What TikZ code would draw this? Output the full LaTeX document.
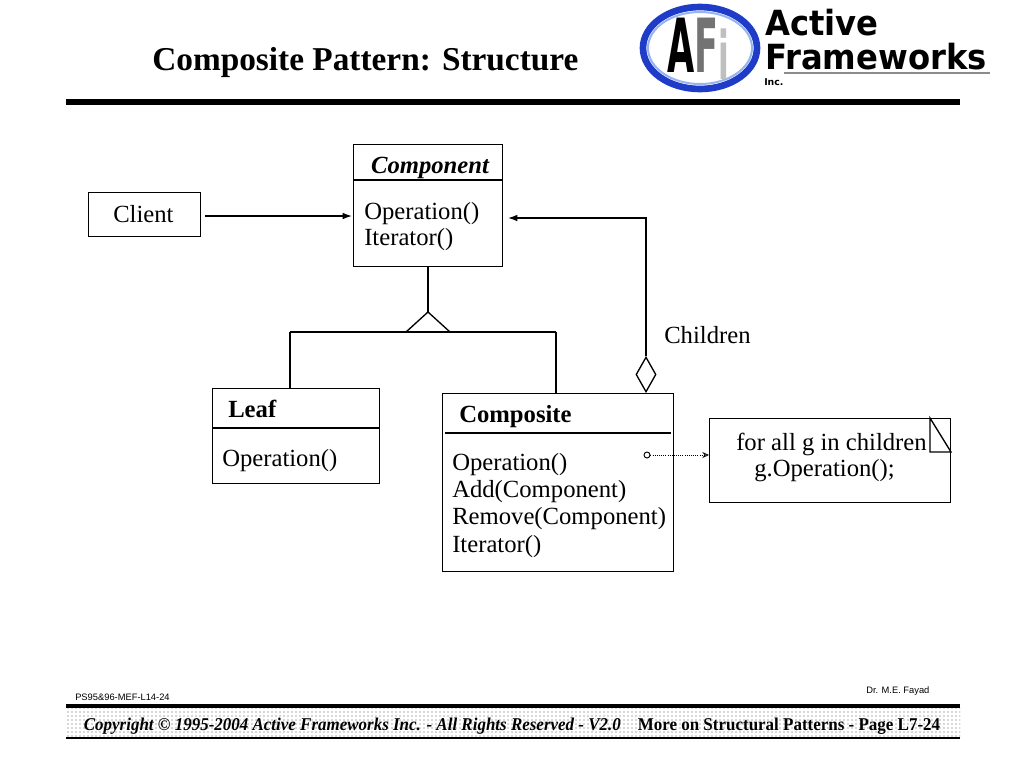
\documentclass[tikz,border=0pt]{standalone}
\usepackage{fontspec}
\setmainfont{Liberation Serif}
\setsansfont{Liberation Sans}
\newfontfamily\logofont{DejaVu Sans}
\usetikzlibrary{arrows.meta,shapes.geometric,patterns}
\tikzset{
  umlbox/.style={draw, line width=1pt, inner sep=0pt, anchor=north west},
  txt/.style={anchor=base west, inner sep=0pt, font=\fontsize{18.5}{22}\selectfont},
  btxt/.style={txt, font=\bfseries\fontsize{18.5}{22}\selectfont},
  conn/.style={line width=1pt},
  small/.style={anchor=base west, inner sep=0pt, font=\sffamily\fontsize{7}{8}\selectfont},
  logotxt/.style={anchor=base west, inner sep=0pt, font=\logofont\bfseries\fontsize{26}{26}\selectfont, xscale=0.93},
}
\definecolor{logoblue}{RGB}{30,60,200}
\definecolor{logolight}{RGB}{150,180,240}
\begin{document}
\begin{tikzpicture}[x=0.75pt,y=-0.75pt]
\useasboundingbox (0,0) rectangle (1024,768);
\fill[white] (0,0) rectangle (1024,768);

% title
\node[anchor=base west, inner sep=0pt, font=\bfseries\fontsize{25}{30}\selectfont] (title) at (152,70) {Composite Pattern: Structure};
\draw[line width=4.5pt] (66,102) -- (960,102);

% logo
\draw[logoblue, line width=5pt] (700,48) ellipse [x radius=57, y radius=41];
\draw[logolight, line width=1.5pt] (700,48) ellipse [x radius=52, y radius=36];
\node[anchor=base, inner sep=0pt, font=\logofont\bfseries\fontsize{56}{56}\selectfont, xscale=0.47] (afi) at (698,72) {A{\color{black!55}F}{\color{black!25}\raisebox{-0.1em}{\fontsize{50}{50}\selectfont i}}};
\node[logotxt] (la1) at (765,35) {Active};
\node[logotxt] (la2) at (765,69) {Frameworks};
\draw[black!45, line width=1.2pt] (784,73) -- (990,73);
\node[anchor=base west, inner sep=0pt, font=\logofont\bfseries\fontsize{7}{7}\selectfont] (linc) at (764,85) {Inc.};

% boxes
\node[umlbox, minimum width=84pt, minimum height=33pt] (client) at (88,192) {};
\node[txt] (clientt) at (113,222) {Client};

\node[umlbox, minimum width=111.75pt, minimum height=91.5pt] (comp) at (353,144) {};
\draw[line width=1pt] (353,180) -- (502,180);
\node[anchor=base, inner sep=0pt, font=\bfseries\itshape\fontsize{18.5}{22}\selectfont] (compt) at (430,173) {Component};
\node[txt] (c1) at (364,219) {Operation()};
\node[txt] (c2) at (364,245) {Iterator()};

\node[umlbox, minimum width=125.25pt, minimum height=71.25pt] (leaf) at (212,388) {};
\draw[line width=1pt] (212,428) -- (379,428);
\node[btxt] (leaft) at (228,417) {Leaf};
\node[txt] (l1) at (222,466) {Operation()};

\node[umlbox, minimum width=173.25pt, minimum height=133.5pt] (compo) at (442,393) {};
\draw[line width=1pt] (445,433) -- (671,433);
\node[btxt] (compot) at (459,422) {Composite};
\node[txt] (o1) at (452,470) {Operation()};
\node[txt] (o2) at (452,497) {Add(Component)};
\node[txt] (o3) at (452,524) {Remove(Component)};
\node[txt] (o4) at (452,552) {Iterator()};

\node[umlbox, minimum width=180.75pt, minimum height=63pt] (note) at (709,418) {};
\draw[line width=1pt] (930,418) -- (930,452) -- (951,452) -- cycle;
\node[txt] (n1) at (736,450) {for all g in children};
\node[txt] (n2) at (754,476) {g.Operation();};

\node[txt] (children) at (664,343) {Children};

% client -> component
\coordinate (cin) at (352,216);
\draw[conn, -{Latex[length=7pt,width=5pt]}] (205,216) -- (cin);

% aggregation
\node[diamond, draw, line width=1pt, inner sep=0pt, minimum width=15pt, minimum height=26.25pt] (dia) at (646,374.5) {};
\coordinate (aggin) at (508,218);
\draw[conn, -{Latex[length=7pt,width=5pt]}] (dia.north) |- (aggin);

% inheritance
\coordinate (tri) at (428,312);
\draw[conn] (comp.south -| tri) -- (tri);
\draw[conn] (tri) -- (406,332) -- (450,332) -- cycle;
\coordinate (hl) at (290,332);
\coordinate (hr) at (556,332);
\draw[conn] (hl) -- (hr);
\draw[conn] (hl) -- (hl |- leaf.north);
\draw[conn] (hr) -- (hr |- compo.north);

% note link
\node[circle, draw, line width=0.7pt, inner sep=0pt, minimum size=4.5pt] (oc) at (647,455) {};
\draw[line width=0.6pt, densely dotted, -{Stealth[open,length=5pt,width=4.5pt]}] (oc.east) -- (oc.east -| note.west);

% footer
\node[small] (ps) at (75,700) {PS95\&96-MEF-L14-24};
\node[small] (dr) at (866,693) {Dr. M.E. Fayad};
\fill[pattern=dots, pattern color=black!65] (66,708) rectangle (960,737);
\draw[line width=2.5pt] (66,706) -- (960,706);
\draw[line width=2.2pt] (66,738) -- (960,738);
\node[anchor=base, inner sep=0pt, xscale=0.943, font=\bfseries\fontsize{13.5}{16}\selectfont] (copy) at (512,730) {\itshape Copyright \textcopyright{} 1995-2004 Active Frameworks Inc. - All Rights Reserved - V2.0\quad\upshape More on Structural Patterns - Page L7-24};
\end{tikzpicture}
\end{document}
